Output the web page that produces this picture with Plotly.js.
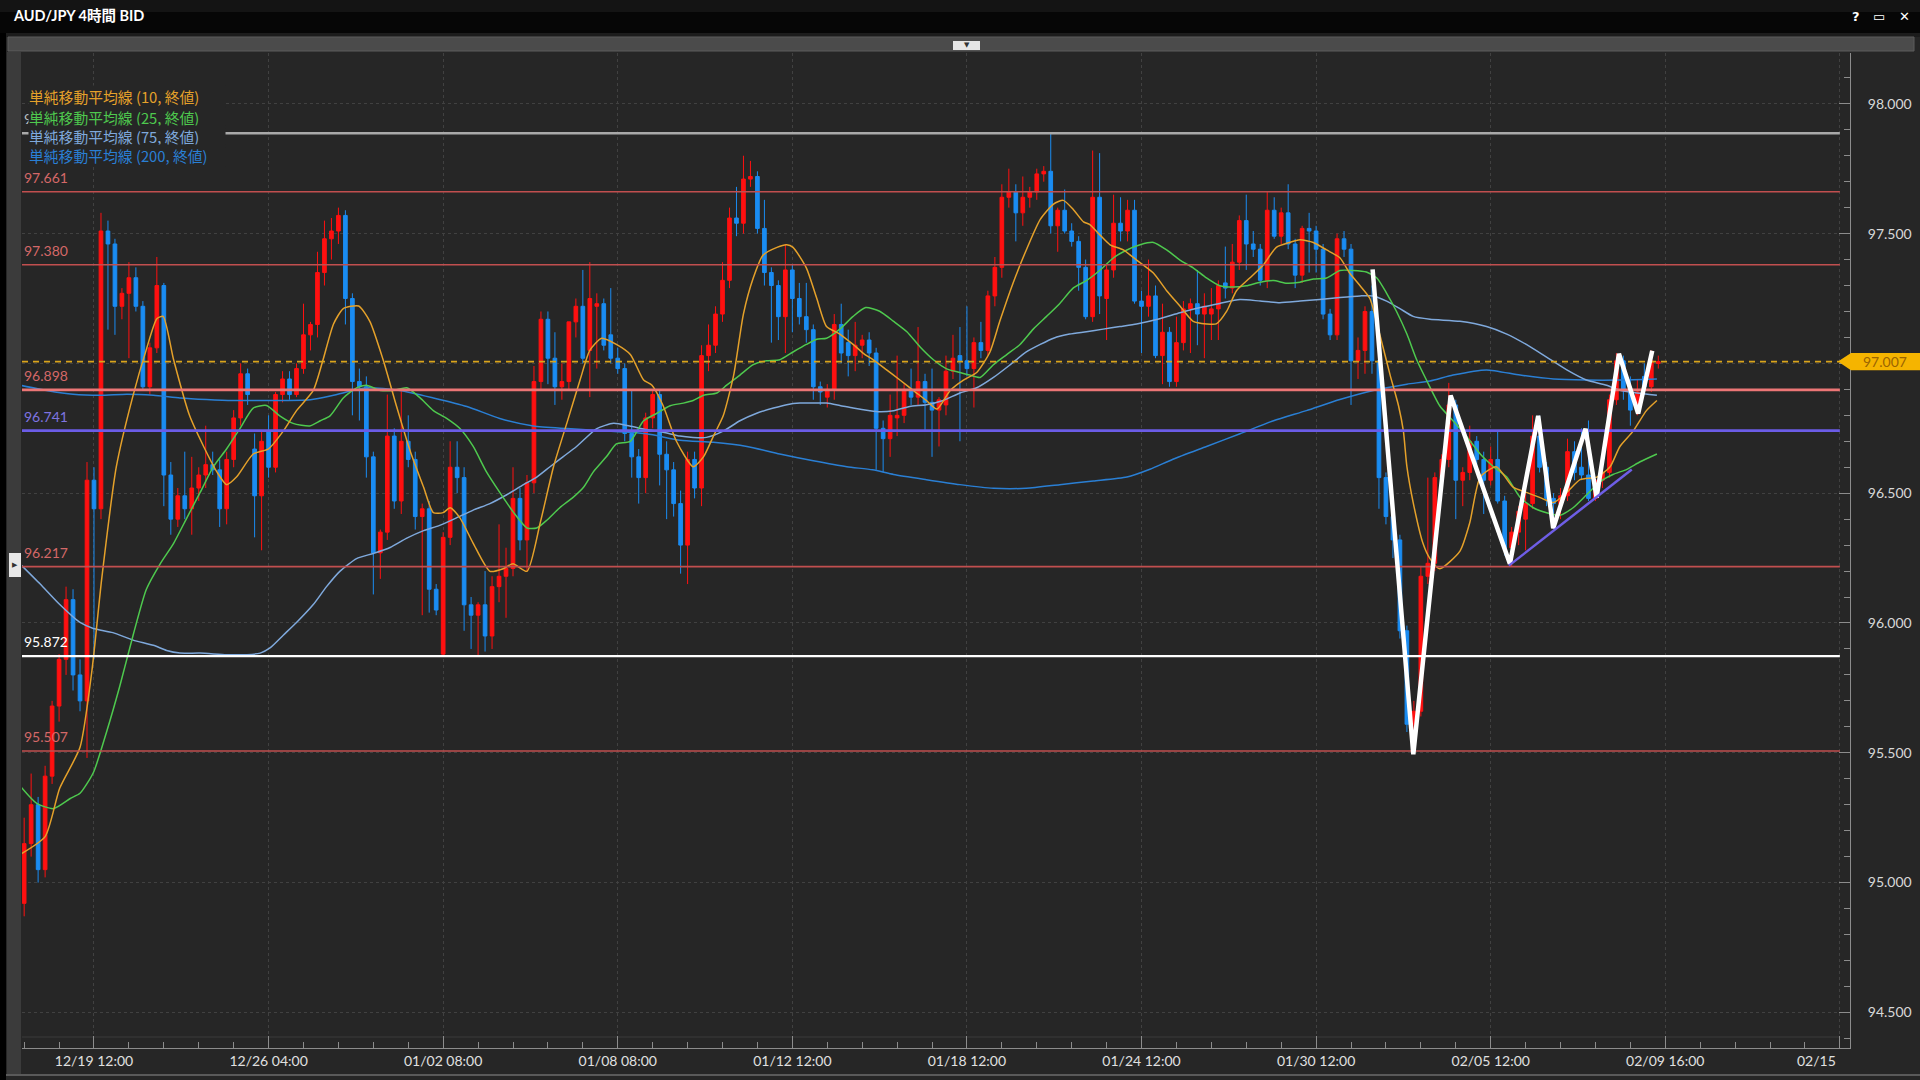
<!DOCTYPE html>
<html><head><meta charset="utf-8">
<script src="https://cdn.plot.ly/plotly-3.0.1.min.js"></script>
<style>html,body{margin:0;padding:0;background:#262626;overflow:hidden}#chart{width:1920px;height:1080px}</style>
</head><body><div id="chart"></div>
<script>
// ---------------- DATA ----------------
const openP = [94.92,95.15,95.30,95.05,95.41,95.68,95.86,96.09,95.80,95.70,
96.55,96.44,97.51,97.46,97.22,97.27,97.33,97.22,96.91,97.06,
97.30,96.57,96.40,96.49,96.44,96.52,96.57,96.61,96.59,96.44,
96.63,96.79,96.96,96.67,96.49,96.74,96.60,96.88,96.94,96.88,
96.98,97.11,97.15,97.35,97.48,97.51,97.57,97.25,96.93,96.91,
96.64,96.27,96.35,96.72,96.47,96.70,96.63,96.41,96.44,96.13,
95.88,96.33,96.60,96.56,96.07,96.03,96.07,95.95,96.14,96.18,
96.21,96.48,96.32,96.54,96.93,97.17,97.02,96.91,96.93,97.16,
97.22,97.05,97.22,97.23,97.11,97.02,96.98,96.73,96.64,96.56,
96.79,96.88,96.65,96.59,96.46,96.30,96.63,96.52,97.03,97.07,
97.19,97.32,97.56,97.54,97.71,97.72,97.52,97.35,97.30,97.18,
97.36,97.25,97.18,97.13,96.91,96.87,96.90,97.15,97.08,97.03,
97.07,97.09,97.04,96.75,96.71,96.79,96.80,96.90,96.87,96.93,
96.85,96.82,96.84,96.97,97.03,97.01,96.98,97.08,97.05,97.26,
97.37,97.64,97.66,97.58,97.64,97.66,97.73,97.74,97.53,97.59,
97.51,97.47,97.37,97.18,97.64,97.25,97.36,97.54,97.51,97.59,
97.24,97.22,97.26,97.03,97.12,96.93,97.08,97.21,97.23,97.19,
97.19,97.21,97.31,97.29,97.39,97.55,97.46,97.44,97.32,97.59,
97.49,97.58,97.46,97.34,97.52,97.51,97.44,97.19,97.11,97.48,
97.44,97.01,97.05,97.20,97.01,96.56,96.41,96.32,95.97,95.61,
95.66,96.18,96.23,96.56,96.63,96.84,96.55,96.58,96.70,96.63,
96.55,96.63,96.47,96.29,96.35,96.40,96.46,96.72,96.60,96.48,
96.46,96.49,96.66,96.60,96.57,96.48,96.55,96.58,96.86,97.01,
96.90,96.82,96.95,96.91,97.00];
const highP = [95.25,95.42,95.33,95.45,95.70,95.88,96.14,96.13,95.86,96.62,
96.60,97.58,97.55,97.48,97.29,97.39,97.37,97.24,97.08,97.41,
97.31,96.62,96.52,96.66,96.64,96.60,96.76,96.66,96.63,96.66,
96.82,97.00,96.98,96.73,96.74,96.80,96.89,96.97,96.97,97.00,
97.23,97.16,97.43,97.55,97.56,97.60,97.59,97.27,96.98,96.95,
96.66,96.36,96.88,96.75,96.90,96.80,96.66,96.46,96.47,96.15,
96.35,96.70,96.70,96.60,96.10,96.08,96.20,96.18,96.38,96.29,
96.60,96.52,96.57,96.99,97.20,97.20,97.12,97.00,97.16,97.25,
97.36,97.39,97.27,97.25,97.29,97.06,97.00,96.90,96.67,96.81,
96.90,96.90,96.70,96.62,96.51,96.66,96.66,97.07,97.15,97.22,
97.39,97.60,97.68,97.80,97.78,97.74,97.63,97.37,97.32,97.46,
97.38,97.31,97.31,97.15,96.93,96.92,97.19,97.23,97.13,97.16,
97.11,97.12,97.06,96.78,96.88,97.03,96.92,96.98,97.14,96.96,
96.98,96.87,97.03,97.11,97.14,97.22,97.10,97.16,97.28,97.41,
97.69,97.75,97.69,97.72,97.68,97.75,97.76,97.887,97.60,97.67,
97.54,97.49,97.40,97.82,97.81,97.38,97.65,97.64,97.63,97.63,
97.28,97.40,97.30,97.23,97.14,97.18,97.24,97.25,97.36,97.27,
97.29,97.32,97.45,97.46,97.57,97.65,97.51,97.46,97.66,97.64,
97.60,97.69,97.48,97.53,97.58,97.53,97.46,97.21,97.50,97.51,
97.46,97.10,97.22,97.30,97.03,96.58,96.43,96.34,95.99,95.70,
96.22,96.56,96.58,96.65,96.925,96.86,96.60,96.76,96.72,96.66,
96.68,96.74,96.49,96.37,96.45,96.50,96.80,96.80,96.62,96.50,
96.52,96.71,96.70,96.75,96.78,96.55,96.60,96.88,97.04,97.03,
96.95,96.94,97.00,97.05,97.03];
const lowP = [94.87,95.10,95.00,95.02,95.38,95.62,95.80,95.74,95.66,95.48,
95.86,96.40,97.13,97.11,97.17,97.02,97.20,96.90,96.88,97.04,
96.45,96.34,96.37,96.40,96.34,96.47,96.52,96.57,96.37,96.38,
96.60,96.76,96.84,96.33,96.28,96.56,96.58,96.85,96.86,96.87,
96.96,97.05,97.10,97.30,97.40,97.46,97.15,96.80,96.78,96.56,
96.11,96.17,96.32,96.44,96.42,96.60,96.36,96.03,96.04,96.03,
95.872,96.30,96.50,95.97,95.90,95.872,95.89,95.90,96.08,96.02,
96.18,96.28,96.20,96.50,96.90,96.92,96.84,96.86,96.90,97.10,
97.00,96.87,96.98,97.05,97.00,96.96,96.70,96.56,96.46,96.50,
96.75,96.53,96.40,96.41,96.19,96.15,96.48,96.45,96.97,97.04,
97.16,97.29,97.49,97.50,97.68,97.50,97.30,97.08,97.09,97.04,
97.12,97.15,97.08,96.86,96.84,96.83,96.86,97.00,96.95,96.97,
97.02,96.99,96.59,96.58,96.64,96.72,96.77,96.84,96.84,96.74,
96.64,96.68,96.80,96.94,96.70,96.95,96.83,97.02,97.03,97.22,
97.33,97.60,97.47,97.53,97.60,97.63,97.70,97.50,97.43,97.50,
97.45,97.28,97.17,97.16,97.19,97.09,97.33,97.47,97.47,97.23,
97.04,97.18,97.02,96.92,96.91,96.91,97.05,97.04,97.07,97.02,
97.09,97.09,97.25,97.27,97.36,97.36,97.41,97.30,97.29,97.48,
97.46,97.44,97.29,97.31,97.35,97.35,97.17,97.09,97.09,97.41,
96.84,96.94,96.96,96.96,96.44,96.38,96.25,95.94,95.58,95.507,
95.64,96.15,96.20,96.52,96.60,96.40,96.45,96.55,96.60,96.42,
96.53,96.46,96.26,96.217,96.30,96.28,96.44,96.58,96.45,96.37,
96.40,96.47,96.55,96.55,96.47,96.47,96.52,96.56,96.84,96.86,
96.76,96.80,96.88,96.89,96.98];
const closeP = [95.15,95.30,95.05,95.41,95.68,95.86,96.09,95.80,95.70,96.55,
96.44,97.51,97.46,97.22,97.27,97.33,97.22,96.91,97.06,97.30,
96.57,96.40,96.49,96.44,96.52,96.57,96.61,96.59,96.44,96.63,
96.79,96.96,96.88,96.49,96.70,96.60,96.88,96.94,96.88,96.98,
97.11,97.15,97.35,97.48,97.51,97.57,97.25,96.93,96.91,96.64,
96.27,96.35,96.72,96.47,96.70,96.63,96.41,96.44,96.13,96.05,
96.33,96.60,96.56,96.07,96.03,96.07,95.95,96.14,96.18,96.21,
96.48,96.32,96.54,96.93,97.17,97.02,96.91,96.93,97.16,97.22,
97.02,97.25,97.23,97.07,97.02,96.98,96.73,96.64,96.56,96.79,
96.88,96.65,96.59,96.46,96.30,96.63,96.52,97.03,97.07,97.19,
97.32,97.56,97.54,97.71,97.72,97.52,97.35,97.30,97.18,97.36,
97.25,97.18,97.13,96.91,96.89,96.90,97.15,97.04,97.03,97.07,
97.09,97.04,96.75,96.71,96.80,96.80,96.90,96.87,96.93,96.85,
96.82,96.86,96.97,97.02,97.01,96.98,97.08,97.05,97.26,97.37,
97.64,97.66,97.58,97.64,97.66,97.73,97.74,97.53,97.59,97.51,
97.47,97.37,97.18,97.64,97.26,97.36,97.54,97.51,97.59,97.24,
97.22,97.26,97.03,97.12,96.93,97.08,97.21,97.23,97.19,97.22,
97.21,97.30,97.29,97.39,97.55,97.46,97.44,97.32,97.59,97.49,
97.58,97.46,97.34,97.52,97.51,97.44,97.19,97.11,97.48,97.44,
97.01,97.05,97.20,97.01,96.56,96.41,96.32,95.97,95.61,95.66,
96.18,96.23,96.56,96.63,96.84,96.55,96.58,96.70,96.63,96.55,
96.63,96.47,96.29,96.35,96.43,96.46,96.72,96.60,96.48,96.46,
96.49,96.66,96.58,96.57,96.48,96.55,96.58,96.86,97.01,96.90,
96.82,96.89,96.91,97.01,97.007];

// moving averages: [bar, value]
const sma10 = [[-0.6,95.108],[3.0,95.177],[5.1,95.364],[8.0,95.521],[9.7,95.816],[11.1,96.169],[13.2,96.602],[15.6,96.877],[17.5,97.054],[19.0,97.172],[19.9,97.181],[21.4,97.014],[23.7,96.798],[25.7,96.680],[27.6,96.582],[29.0,96.533],[30.4,96.562],[32.8,96.651],[35.0,96.671],[37.1,96.739],[39.0,96.818],[41.4,96.896],[42.8,97.014],[44.3,97.152],[45.7,97.211],[47.9,97.221],[49.5,97.162],[51.4,97.014],[53.3,96.837],[55.3,96.661],[57.2,96.523],[58.6,96.425],[60.0,96.425],[61.0,96.444],[62.4,96.405],[64.3,96.307],[66.7,96.199],[68.6,96.209],[70.0,96.228],[72.0,96.199],[73.9,96.386],[75.8,96.602],[77.7,96.769],[79.6,96.936],[81.0,97.050],[82.7,97.097],[84.8,97.073],[86.8,97.034],[88.7,96.936],[89.9,96.916],[91.5,96.837],[93.4,96.700],[95.8,96.602],[97.3,96.641],[98.7,96.720],[100.1,96.798],[101.6,96.955],[103.0,97.191],[104.4,97.329],[105.8,97.417],[107.8,97.447],[109.2,97.457],[110.1,97.447],[112.0,97.368],[113.5,97.250],[114.9,97.142],[116.8,97.113],[118.7,97.073],[120.4,97.034],[121.6,97.014],[123.5,96.975],[125.4,96.936],[127.3,96.896],[129.2,96.857],[130.7,96.824],[132.6,96.896],[134.5,96.936],[136.4,96.965],[138.3,97.044],[139.7,97.162],[141.6,97.309],[143.5,97.437],[145.5,97.555],[147.4,97.614],[148.8,97.628],[150.2,97.594],[151.7,97.545],[152.6,97.535],[154.0,97.496],[155.5,97.457],[157.4,97.437],[159.3,97.398],[161.7,97.348],[163.6,97.280],[165.5,97.221],[167.4,97.162],[169.3,97.152],[170.7,97.152],[172.2,97.201],[173.6,97.280],[175.5,97.329],[177.4,97.378],[179.3,97.447],[181.2,97.466],[182.7,97.476],[184.6,97.466],[186.5,97.437],[188.4,97.407],[189.8,97.348],[191.3,97.299],[192.7,97.250],[194.1,97.113],[195.6,96.955],[196.8,96.837],[197.5,96.739],[198.0,96.602],[198.9,96.464],[200.3,96.307],[201.3,96.248],[202.7,96.209],[205.6,96.277],[207.0,96.386],[208.5,96.562],[210.8,96.602],[213.2,96.523],[215.1,96.503],[217.0,96.484],[219.0,96.464],[220.9,96.503],[222.8,96.552],[225.2,96.562],[227.1,96.602],[228.5,96.680],[230.4,96.739],[232.3,96.818],[233.8,96.857]];
const sma25 = [[-0.6,95.373],[1.8,95.305],[4.2,95.285],[6.6,95.324],[8.0,95.344],[9.9,95.423],[11.8,95.580],[13.7,95.757],[15.6,95.953],[17.5,96.130],[19.5,96.229],[21.4,96.307],[23.3,96.405],[25.2,96.503],[27.1,96.602],[29.0,96.671],[30.9,96.749],[32.8,96.828],[34.7,96.838],[36.6,96.798],[38.5,96.769],[40.9,96.759],[42.4,96.779],[43.8,96.798],[45.7,96.867],[47.6,96.906],[49.0,96.916],[51.0,96.896],[52.9,96.896],[54.8,96.906],[56.7,96.867],[58.6,96.818],[60.5,96.788],[62.4,96.749],[64.3,96.680],[66.2,96.582],[68.1,96.503],[70.1,96.425],[72.0,96.366],[73.4,96.366],[74.8,96.395],[76.7,96.444],[78.6,96.484],[80.1,96.523],[81.5,96.582],[83.4,96.641],[84.8,96.690],[86.8,96.700],[88.7,96.779],[90.6,96.808],[92.5,96.837],[94.4,96.847],[95.8,96.857],[97.3,96.877],[99.2,96.886],[100.6,96.916],[102.5,96.955],[104.4,96.995],[106.3,97.010],[108.2,97.014],[110.1,97.044],[112.0,97.073],[113.5,97.093],[114.9,97.097],[116.8,97.132],[118.7,97.181],[120.5,97.215],[122.5,97.201],[124.5,97.162],[126.4,97.122],[128.3,97.063],[130.2,97.014],[132.1,96.979],[134.0,96.965],[135.4,96.955],[136.9,96.946],[138.8,96.995],[140.7,97.034],[142.6,97.073],[144.5,97.132],[146.4,97.181],[148.3,97.231],[150.2,97.290],[152.1,97.319],[154.0,97.358],[156.0,97.407],[157.9,97.437],[159.8,97.457],[161.7,97.466],[163.6,97.437],[165.5,97.398],[167.4,97.368],[169.3,97.329],[171.2,97.299],[173.1,97.294],[175.0,97.299],[177.0,97.313],[178.9,97.319],[180.8,97.309],[182.7,97.313],[184.6,97.325],[186.5,97.329],[188.4,97.358],[190.3,97.358],[192.2,97.352],[193.7,97.329],[195.1,97.270],[196.5,97.201],[198.0,97.113],[199.4,97.014],[200.8,96.936],[202.7,96.837],[204.6,96.779],[206.5,96.720],[208.5,96.651],[210.4,96.602],[212.3,96.562],[214.2,96.484],[216.1,96.444],[218.0,96.425],[219.9,96.415],[221.8,96.444],[223.7,96.493],[225.6,96.543],[227.5,96.572],[229.5,96.592],[231.4,96.621],[233.8,96.651]];
const sma75 = [[-0.6,96.228],[2.3,96.150],[5.1,96.071],[8.0,96.002],[9.9,95.979],[12.7,95.963],[15.6,95.934],[18.5,95.914],[20.4,95.894],[22.3,95.884],[25.2,95.884],[29.0,95.878],[31.9,95.878],[33.8,95.884],[35.2,95.904],[37.1,95.953],[39.0,96.002],[41.4,96.071],[43.3,96.140],[45.2,96.199],[47.6,96.248],[50.0,96.268],[52.4,96.291],[54.8,96.327],[57.2,96.356],[59.5,96.376],[61.9,96.405],[64.3,96.435],[66.7,96.460],[69.1,96.494],[71.5,96.533],[73.4,96.562],[75.3,96.602],[77.2,96.641],[79.1,96.680],[82.0,96.749],[84.4,96.769],[86.7,96.759],[89.1,96.745],[91.5,96.735],[93.9,96.720],[95.8,96.715],[97.7,96.715],[100.1,96.739],[102.5,96.779],[104.9,96.808],[107.3,96.828],[109.2,96.841],[111.1,96.847],[113.0,96.847],[114.9,96.847],[116.8,96.838],[118.7,96.828],[121.1,96.818],[122.5,96.814],[124.5,96.818],[126.8,96.834],[129.2,96.841],[131.6,96.857],[134.0,96.886],[136.4,96.906],[138.8,96.946],[141.2,96.995],[143.5,97.044],[145.5,97.073],[147.4,97.097],[149.7,97.113],[152.1,97.122],[154.5,97.132],[156.9,97.142],[159.3,97.152],[162.6,97.172],[165.5,97.195],[168.4,97.215],[171.2,97.231],[174.1,97.246],[177.0,97.240],[179.8,97.234],[182.7,97.240],[185.5,97.246],[188.4,97.254],[191.3,97.260],[193.2,97.260],[195.1,97.240],[197.0,97.211],[198.9,97.181],[201.3,97.170],[205.6,97.162],[209.4,97.142],[212.3,97.113],[215.1,97.073],[218.0,97.024],[220.9,96.975],[223.7,96.936],[226.6,96.916],[228.5,96.896],[230.9,96.886],[233.8,96.877]];
const sma200 = [[-0.6,96.916],[3.2,96.896],[7.0,96.881],[10.9,96.877],[14.7,96.881],[18.5,96.877],[22.3,96.867],[26.1,96.861],[29.9,96.857],[33.8,96.857],[37.6,96.857],[41.0,96.860],[44.3,96.877],[49.0,96.906],[53.8,96.896],[58.6,96.867],[63.4,96.834],[68.1,96.788],[72.9,96.759],[77.7,96.749],[81.0,96.743],[89.1,96.729],[93.9,96.704],[98.7,96.696],[103.5,96.680],[108.2,96.651],[113.0,96.625],[117.8,96.602],[121.5,96.590],[124.5,96.572],[129.2,96.552],[134.0,96.533],[138.8,96.519],[143.5,96.519],[148.3,96.533],[153.1,96.547],[157.9,96.562],[161.2,96.592],[164.5,96.631],[169.3,96.680],[174.1,96.729],[178.9,96.779],[183.6,96.818],[188.4,96.861],[193.2,96.896],[198.0,96.920],[201.3,96.932],[204.6,96.955],[209.4,96.975],[214.2,96.955],[219.0,96.940],[223.7,96.936],[228.5,96.936],[233.8,96.940]];

// horizontal price levels
const levelPrices = [97.887, 97.661, 97.380, 96.898, 96.741, 96.217, 95.872, 95.507];
const levelLabels = ['97.887','97.661','97.380','96.898','96.741','96.217','95.872','95.507'];
const currentPrice = 97.007;
const currentLabel = '97.007';

// hand-drawn zigzag and trendline [bar, price]
const zigzagBar   = [193.09, 198.92, 204.26, 212.75, 216.80, 218.95, 223.59, 225.16, 228.36, 231.12, 233.13];
const zigzagPrice = [97.362, 95.494, 96.876, 96.228, 96.798, 96.365, 96.748, 96.483, 97.037, 96.807, 97.049];
const trendBar   = [212.6, 230.2];
const trendPrice = [96.221, 96.591];

// x-axis tick labels
const tickBars = [10, 35, 60, 85, 110, 135, 160, 185, 210, 235];
const tickLabels = ['12/19 12:00','12/26 04:00','01/02 08:00','01/08 08:00','01/12 12:00','01/18 12:00','01/24 12:00','01/30 12:00','02/05 12:00','02/09 16:00'];
const lastTickBar = 260, lastTickLabel = '02/15';

const legendNames = ['単純移動平均線 (10, 終値)','単純移動平均線 (25, 終値)','単純移動平均線 (75, 終値)','単純移動平均線 (200, 終値)'];
const chartTitle = 'AUD/JPY 4時間 BID';

// ---------------- STYLE / LAYOUT ----------------
const W = 1920, H = 1080, ML = 22, MR = 70, MT = 53, MB = 32;
const PW = W - ML - MR, PH = H - MT - MB;
const px = x => (x - ML) / PW;
const py = y => (H - MB - y) / PH;
const XR = [-0.309, 261.45], YR = [94.3628, 98.1957];
const xEnd = 260;
const FONT = "Lato, 'Noto Sans CJK JP', sans-serif";
const CJK = "'Noto Sans CJK JP', Lato, sans-serif";

const maColors = ['#e5a12a', '#4ec94e', '#7fa9dc', '#2a7fd4'];
const levelStyle = [
  {color:'#a9a9a9', width:2.5, label:'#bdbdbd'},
  {color:'#c14f4f', width:1.6, label:'#d46868'},
  {color:'#c14f4f', width:1.6, label:'#d46868'},
  {color:'#ec7676', width:2.6, label:'#d46868'},
  {color:'#6b5ce6', width:2.6, label:'#7f74e0'},
  {color:'#c14f4f', width:1.6, label:'#d46868'},
  {color:'#ffffff', width:2.2, label:'#ffffff'},
  {color:'#c14f4f', width:1.6, label:'#d46868'}
];

const bars = openP.map((_, i) => i);
const traces = [];
traces.push({
  type:'candlestick', x:bars, open:openP, high:highP, low:lowP, close:closeP,
  increasing:{line:{color:'#ff1010', width:1}, fillcolor:'#ff1010'},
  decreasing:{line:{color:'#1a8cf2', width:1}, fillcolor:'#1a8cf2'},
  whiskerwidth:0, hoverinfo:'skip', showlegend:false
});
[sma200, sma75, sma25, sma10].forEach((s, k) => {
  const col = [maColors[3], maColors[2], maColors[1], maColors[0]][k];
  traces.push({type:'scatter', mode:'lines', x:s.map(p=>p[0]), y:s.map(p=>p[1]),
    line:{color:col, width:1.5, shape:'spline', smoothing:0.6}, hoverinfo:'skip', showlegend:false});
});
levelPrices.forEach((p, k) => {
  traces.push({type:'scatter', mode:'lines', x:[XR[0], xEnd], y:[p, p],
    line:{color:levelStyle[k].color, width:levelStyle[k].width}, hoverinfo:'skip', showlegend:false});
});
traces.push({type:'scatter', mode:'lines', x:[XR[0], xEnd], y:[currentPrice, currentPrice],
  line:{color:'#d9a41c', width:1.6, dash:'6px,5px'}, hoverinfo:'skip', showlegend:false});
traces.push({type:'scatter', mode:'lines', x:zigzagBar, y:zigzagPrice,
  line:{color:'#ffffff', width:4.5}, hoverinfo:'skip', showlegend:false});
traces.push({type:'scatter', mode:'lines', x:trendBar, y:trendPrice,
  line:{color:'#6e5ee6', width:2.5}, hoverinfo:'skip', showlegend:false});

const minorBars = [];
for (let b = 0; b <= 260; b += 5) if ((b - 10) % 25 !== 0) minorBars.push(b);

const shapes = [
  {type:'rect', xref:'paper', yref:'paper', x0:px(0), x1:px(6), y0:py(1080), y1:py(0), fillcolor:'#000', line:{width:0}, layer:'above'},
  {type:'rect', xref:'paper', yref:'paper', x0:px(0), x1:px(1920), y0:py(33), y1:py(0), fillcolor:'#060606', line:{width:0}, layer:'above'},
  {type:'rect', xref:'paper', yref:'paper', x0:px(0), x1:px(1920), y0:py(12), y1:py(0), fillcolor:'#141414', line:{width:0}, layer:'above'},
  {type:'rect', xref:'paper', yref:'paper', x0:px(6), x1:px(1920), y0:py(37), y1:py(33), fillcolor:'#1c1c1c', line:{width:0}, layer:'above'},
  {type:'rect', xref:'paper', yref:'paper', x0:px(8), x1:px(1914), y0:py(51), y1:py(37), fillcolor:'#4b4b4b', line:{color:'#5c5c5c', width:1}, layer:'above'},
  {type:'rect', xref:'paper', yref:'paper', x0:px(953), x1:px(980), y0:py(50), y1:py(41), fillcolor:'#e6e6e6', line:{width:0}, layer:'above'},
  {type:'rect', xref:'paper', yref:'paper', x0:px(7), x1:px(21), y0:py(1076), y1:py(52), fillcolor:'#3b3b3b', line:{width:0}, layer:'above'},
  {type:'rect', xref:'paper', yref:'paper', x0:px(9), x1:px(21), y0:py(577), y1:py(553), fillcolor:'#e8e8e8', line:{width:0}, layer:'above'},
  {type:'line', xref:'paper', yref:'paper', x0:px(6), x1:px(1920), y0:py(1075), y1:py(1075), line:{color:'#5a5a5a', width:2}, layer:'above'},
  {type:'line', xref:'x', yref:'paper', x0:XR[0], x1:xEnd, y0:py(1037), y1:py(1037), line:{color:'#3a3a3a', width:1}, layer:'below'},
  {type:'path', xref:'paper', yref:'y',
   path:`M ${px(1838)},${currentPrice} L ${px(1851)},${currentPrice+0.033} L ${px(1920)},${currentPrice+0.033} L ${px(1920)},${currentPrice-0.033} L ${px(1851)},${currentPrice-0.033} Z`,
   fillcolor:'#f5b400', line:{width:0}, layer:'above'}
];

const annotations = [];
annotations.push({xref:'paper', yref:'paper', x:px(11), y:py(16), xanchor:'left', yanchor:'middle', showarrow:false,
  text:'<b>'+chartTitle+'</b>', font:{family:FONT, size:14.5, color:'#ffffff'}});
[['?',1856],['▭',1879],['✕',1904]].forEach(a => annotations.push({xref:'paper', yref:'paper', x:px(a[1]), y:py(17),
  xanchor:'center', yanchor:'middle', showarrow:false, text:'<b>'+a[0]+'</b>', font:{family:"'DejaVu Sans', sans-serif", size:13, color:'#ffffff'}}));
annotations.push({xref:'paper', yref:'paper', x:px(966.5), y:py(45.5), xanchor:'center', yanchor:'middle', showarrow:false,
  text:'▼', font:{family:"'DejaVu Sans'", size:7, color:'#333'}});
annotations.push({xref:'paper', yref:'paper', x:px(15), y:py(565), xanchor:'center', yanchor:'middle', showarrow:false,
  text:'▶', font:{family:"'DejaVu Sans'", size:7, color:'#333'}});
levelPrices.forEach((p, k) => annotations.push({xref:'x', yref:'y', x:XR[0], y:p, xanchor:'left', yanchor:'bottom', xshift:1, yshift:5,
  showarrow:false, text:levelLabels[k], font:{family:FONT, size:14, color:levelStyle[k].label}, borderpad:0}));
const legendY = [97, 117, 136.5, 156];
legendNames.forEach((t, k) => annotations.push({xref:'paper', yref:'paper', x:px(28), y:py(legendY[k]), xanchor:'left', yanchor:'middle',
  showarrow:false, text:t, align:'left', width:196, bgcolor:'#262626', borderpad:0,
  font:{family:CJK, size:14.8, color:maColors[k]}}));
annotations.push({xref:'paper', yref:'y', x:px(1885), y:currentPrice, xanchor:'center', yanchor:'middle', showarrow:false,
  text:currentLabel, font:{family:FONT, size:14, color:'#9a6400'}});
annotations.push({xref:'x', yref:'paper', x:lastTickBar, y:py(1060), xanchor:'right', yanchor:'middle', xshift:-2, showarrow:false,
  text:lastTickLabel, font:{family:FONT, size:14, color:'#e0e0e0'}});

const layout = {
  width:W, height:H, margin:{l:ML, r:MR, t:MT, b:MB, pad:0},
  paper_bgcolor:'#262626', plot_bgcolor:'#262626',
  font:{family:FONT, color:'#d8d8d8', size:14},
  showlegend:false, hovermode:false, dragmode:false, boxgap:0.25,
  xaxis:{range:XR, tickmode:'array', tickvals:tickBars.concat([lastTickBar]), ticktext:tickLabels.concat(['']),
    ticks:'inside', ticklen:12, tickcolor:'#8c8c8c', tickwidth:1, showline:true, linecolor:'#8c8c8c', linewidth:1,
    showgrid:true, gridcolor:'#414141', griddash:'dot', gridwidth:1, zeroline:false, rangeslider:{visible:false},
    tickfont:{family:FONT, size:14, color:'#e0e0e0'}, ticklabelstandoff:0, automargin:false, fixedrange:true,
    minor:{tickmode:'array', tickvals:minorBars, ticks:'inside', ticklen:6, tickcolor:'#8c8c8c', tickwidth:1, showgrid:false}},
  yaxis:{range:YR, side:'right', tickmode:'linear', tick0:94.5, dtick:0.5, tickformat:'.3f',
    ticks:'inside', ticklen:11, tickcolor:'#8c8c8c', tickwidth:1, showline:true, linecolor:'#8c8c8c', linewidth:1,
    showgrid:true, gridcolor:'#414141', griddash:'dot', gridwidth:1, zeroline:false,
    tickfont:{family:FONT, size:14, color:'#d8d8d8'}, ticklabelstandoff:14, automargin:false, fixedrange:true,
    minor:{dtick:0.1, tick0:94.5, ticks:'inside', ticklen:6, tickcolor:'#8c8c8c', tickwidth:1, showgrid:false}},
  shapes:shapes, annotations:annotations
};

Plotly.newPlot('chart', traces, layout, {staticPlot:true, displayModeBar:false});
</script>
</body></html>
